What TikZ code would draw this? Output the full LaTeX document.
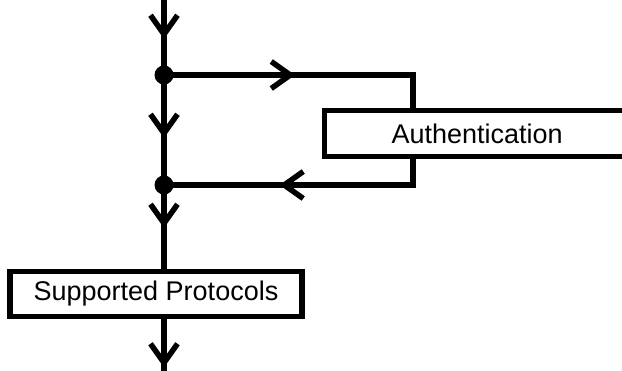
\documentclass[tikz,border=0pt]{standalone}
\usepackage{fontspec}
\setmainfont{Liberation Sans}
\usetikzlibrary{arrows.meta,decorations.markings}

\tikzset{
  flow/.style={line width=5.5pt},
  box/.style={draw, line width=5.5pt, fill=white, inner ysep=0pt, outer sep=0pt,
    font=\fontsize{27}{32}\selectfont},
  junction/.style={circle, fill, inner sep=0pt, minimum size=19pt},
  % open chevron placed #1 along the line
  chevron/.style={postaction={decorate}, decoration={markings,
    mark=at position #1 with {\arrow{Straight Barb[length=19pt,width=27pt]}}}},
}

\begin{document}
\begin{tikzpicture}[x=1pt,y=-1pt]
  \useasboundingbox (0,0) rectangle (622,370);
  \clip (0,0) rectangle (622,370);

  \coordinate (in)  at (164,-5);
  \coordinate (out) at (164,380);
  \node[junction] (j1) at (164,75) {};
  \node[junction] (j2) at (164,185) {};
  \coordinate (r1) at (413,75);
  \coordinate (r2) at (413,185);

  % the authentication box runs on past the right edge
  \node[box, anchor=west, inner xsep=67pt, text width=216pt, align=left,
    minimum height=46pt] (auth) at (324.5,133.5) {Authentication};
  \node[box, inner xsep=0pt, minimum width=292pt, minimum height=45pt]
    (proto) at (156,294) {Supported Protocols};

  % main line
  \draw[flow, chevron=44pt] (in) -- (j1.center);
  \draw[flow, chevron=63pt] (j1.center) -- (j2.center);
  \draw[flow, chevron=43pt] (j2.center) -- (j2 |- proto.north);
  \draw[flow, chevron=51pt] (proto.south -| j2) -- (out);

  % side loop through the authentication step
  \draw[flow, chevron=131pt] (j1.center) -- (r1) -- (r1 |- auth.north);
  \draw[flow, chevron=162pt] (auth.south -| r1) -- (r2) -- (j2.center);
\end{tikzpicture}
\end{document}
